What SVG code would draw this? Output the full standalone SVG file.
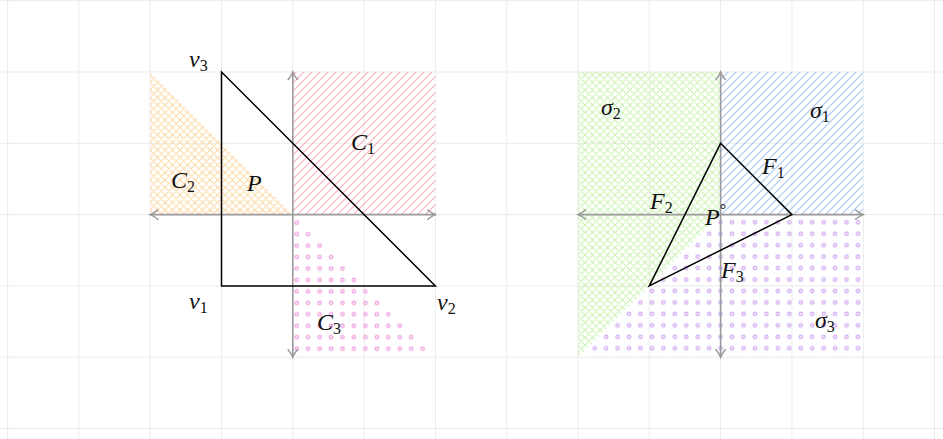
<svg xmlns="http://www.w3.org/2000/svg" width="943" height="439" viewBox="0 0 943 439">
<style>
.grid{stroke:#ebebeb;stroke-width:1;fill:none}
.axis{stroke:#9a9a9a;stroke-width:1.6;fill:none;marker-start:url(#arr);marker-end:url(#arr)}
.tri{stroke:#000;stroke-width:1.5;fill:none;stroke-linejoin:miter}
text{font-family:"Liberation Serif","DejaVu Serif",serif;font-style:italic;font-size:24px;fill:#111}
.sub{font-style:normal;font-size:16px}
</style>
<defs>
<marker id="arr" viewBox="-10 -6 12 12" markerWidth="12" markerHeight="12" refX="0" refY="0" orient="auto-start-reverse" markerUnits="userSpaceOnUse">
<path d="M-8,-5 Q-3,-1 0,0 Q-3,1 -8,5" fill="none" stroke="#9a9a9a" stroke-width="1.5"/>
</marker>
<pattern id="hatchPink" patternUnits="userSpaceOnUse" width="8" height="8">
<path d="M-1,1 L1,-1 M0,8 L8,0 M7,9 L9,7" stroke="#f7b3bd" stroke-width="1.2"/>
</pattern>
<pattern id="hatchBlue" patternUnits="userSpaceOnUse" width="8" height="8">
<path d="M-1,1 L1,-1 M0,8 L8,0 M7,9 L9,7" stroke="#a9cbf2" stroke-width="1.2"/>
</pattern>
<pattern id="crossOrange" patternUnits="userSpaceOnUse" width="7.5" height="7.5">
<path d="M-1,1 L1,-1 M0,7.5 L7.5,0 M6.5,8.5 L8.5,6.5 M0,0 L7.5,7.5 M-1,6.5 L1,8.5 M6.5,-1 L8.5,1" stroke="#fdd7a4" stroke-width="1.1"/>
</pattern>
<pattern id="crossGreen" patternUnits="userSpaceOnUse" width="7.5" height="7.5">
<path d="M-1,1 L1,-1 M0,7.5 L7.5,0 M6.5,8.5 L8.5,6.5 M0,0 L7.5,7.5 M-1,6.5 L1,8.5 M6.5,-1 L8.5,1" stroke="#c9f2b0" stroke-width="1.1"/>
</pattern>
<pattern id="dotPink" patternUnits="userSpaceOnUse" x="291" y="217" width="11.45" height="11.45">
<circle cx="5.72" cy="5.72" r="1.8" fill="#fbe0f4" stroke="#f0a2e0" stroke-width="1.1"/>
</pattern>
<pattern id="dotPurple" patternUnits="userSpaceOnUse" x="714.9" y="216.6" width="11.45" height="11.45">
<circle cx="5.72" cy="5.72" r="1.8" fill="#efe0fb" stroke="#d4aef2" stroke-width="1.1"/>
</pattern>
</defs>
<rect width="943" height="439" fill="#fff"/>
<g id="grid" class="grid">
<path d="M7.6,0V439M78.9,0V439M150.2,0V439M221.5,0V439M292.8,0V439M364.1,0V439M435.4,0V439M506.7,0V439M578,0V439M649.3,0V439M720.6,0V439M791.9,0V439M863.2,0V439M934.5,0V439"/>
<path d="M0,0.7H943M0,72H943M0,143.3H943M0,214.6H943M0,285.9H943M0,357.2H943M0,428.5H943"/>
</g>
<g id="cone-C1"><rect x="292.8" y="72" width="142.6" height="142.6" fill="url(#hatchPink)"/></g>
<g id="cone-C2"><polygon points="292.8,214.6 150.2,214.6 150.2,72" fill="url(#crossOrange)"/></g>
<g id="cone-C3"><polygon points="292.8,214.6 292.8,357.2 435.4,357.2" fill="url(#dotPink)"/></g>
<g id="cone-s1"><rect x="720.6" y="72" width="142.6" height="142.6" fill="url(#hatchBlue)"/></g>
<g id="cone-s2"><polygon points="720.6,214.6 720.6,72 578,72 578,357.2" fill="url(#crossGreen)"/></g>
<g id="cone-s3"><polygon points="720.6,214.6 863.2,214.6 863.2,357.2 578,357.2" fill="url(#dotPurple)"/></g>
<g id="connectors">
<line class="axis" x1="150.2" y1="214.6" x2="435.4" y2="214.6"/>
<line class="axis" x1="292.8" y1="357.2" x2="292.8" y2="72"/>
<line class="axis" x1="578" y1="214.6" x2="863.2" y2="214.6"/>
<line class="axis" x1="720.6" y1="357.2" x2="720.6" y2="72"/>
</g>
<g id="polytope-P"><polygon class="tri" points="221.5,72 221.5,285.9 435.4,285.9"/></g>
<g id="polytope-Ppolar"><polygon class="tri" points="720.6,143.3 791.9,214.6 649.3,285.9"/></g>
<g id="labels-left">
<text x="189" y="67">v<tspan class="sub" dy="4">3</tspan></text>
<text x="189" y="309">v<tspan class="sub" dy="4">1</tspan></text>
<text x="437" y="310">v<tspan class="sub" dy="4">2</tspan></text>
<text x="351" y="150">C<tspan class="sub" dy="4">1</tspan></text>
<text x="171" y="188">C<tspan class="sub" dy="4">2</tspan></text>
<text x="247" y="191">P</text>
<text x="317" y="330">C<tspan class="sub" dy="4">3</tspan></text>
</g>
<g id="labels-right">
<text x="601" y="115">σ<tspan class="sub" dy="4">2</tspan></text>
<text x="810" y="118">σ<tspan class="sub" dy="4">1</tspan></text>
<text x="762" y="174">F<tspan class="sub" dy="4">1</tspan></text>
<text x="650" y="209">F<tspan class="sub" dy="4">2</tspan></text>
<text x="705" y="225">P<tspan class="sub" dy="-10">°</tspan></text>
<text x="721" y="278">F<tspan class="sub" dy="4">3</tspan></text>
<text x="815" y="328">σ<tspan class="sub" dy="4">3</tspan></text>
</g>
</svg>
